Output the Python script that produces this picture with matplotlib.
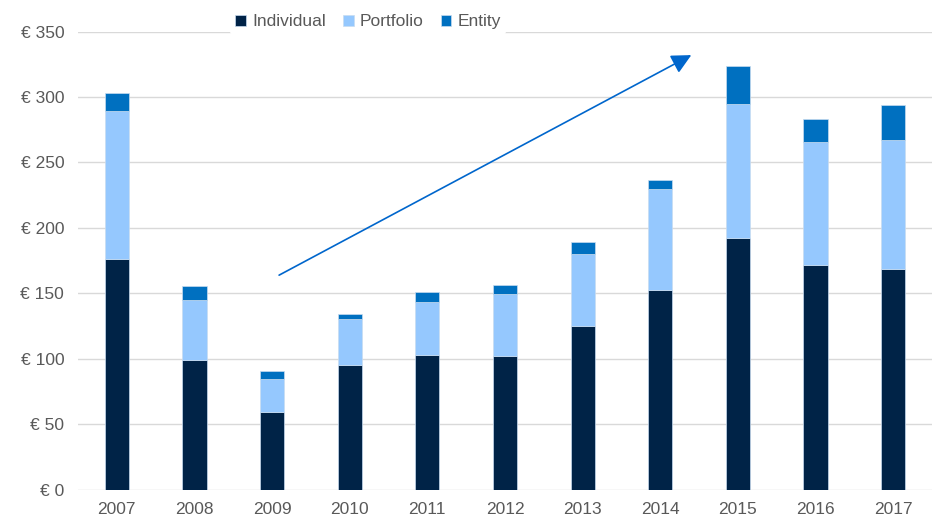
import matplotlib
matplotlib.use("Agg")
import matplotlib.pyplot as plt
from matplotlib.ticker import FuncFormatter
import numpy as np

years = ["2007", "2008", "2009", "2010", "2011", "2012", "2013", "2014", "2015", "2016", "2017"]
individual = [176, 99, 59.5, 95.5, 103, 102.5, 125.5, 153, 192, 172, 169]
portfolio = [113, 46, 25.5, 35, 40.5, 47, 55, 77, 103, 94, 98]
entity = [14, 11, 5.5, 3.5, 7.5, 7, 8.5, 7, 29, 17, 27]
series_names = ["Individual", "Portfolio", "Entity"]
colors = ["#002347", "#95c8fe", "#0070c0"]
y_ticks = [0, 50, 100, 150, 200, 250, 300, 350]

plt.rcParams["font.family"] = ["Liberation Sans", "DejaVu Sans"]

fig = plt.figure(figsize=(9.39, 5.19), dpi=100)
ax = fig.add_axes([0.0831, 0.0559, 0.9094, 0.8834])

x = np.arange(len(years))
width = 0.31
bottom = np.zeros(len(years))
for name, vals, col in zip(series_names, [individual, portfolio, entity], colors):
    vals = np.array(vals, dtype=float)
    ax.bar(x, vals, width, bottom=bottom, color=col, label=name,
           edgecolor="#c8dcf0", linewidth=0.5, zorder=3)
    bottom += vals

ax.set_xlim(-0.5, len(years) - 0.5)
ax.set_ylim(0, 350)
ax.set_yticks(y_ticks)
ax.yaxis.set_major_formatter(FuncFormatter(lambda v, p: f"€ {int(v)}"))
ax.set_xticks(x)
ax.set_xticklabels(years)
ax.grid(axis="y", color="#d9d9d9", linewidth=1.0, zorder=0)
ax.set_axisbelow(True)
for s in ax.spines.values():
    s.set_visible(False)
ax.tick_params(axis="both", length=0, labelsize=12.5, labelcolor="#595959")
ax.tick_params(axis="y", pad=10)
ax.tick_params(axis="x", pad=9)

# trend arrow
ax.annotate("", xy=(7.4, 332), xytext=(2.09, 164),
            arrowprops=dict(arrowstyle="-|>,head_length=0.6,head_width=0.3",
                            color="#0066cc", lw=1.2,
                            mutation_scale=20, shrinkA=0, shrinkB=0),
            zorder=4)

leg = fig.legend(loc="center", bbox_to_anchor=(0.392, 0.958), ncol=3,
                 frameon=True, facecolor="white", edgecolor="none", framealpha=1,
                 fontsize=12.5, handlelength=0.6, handleheight=0.6,
                 handletextpad=0.35, columnspacing=1.0, borderpad=0.3)
for t in leg.get_texts():
    t.set_color("#595959")

fig.savefig("out.png", dpi=100)
